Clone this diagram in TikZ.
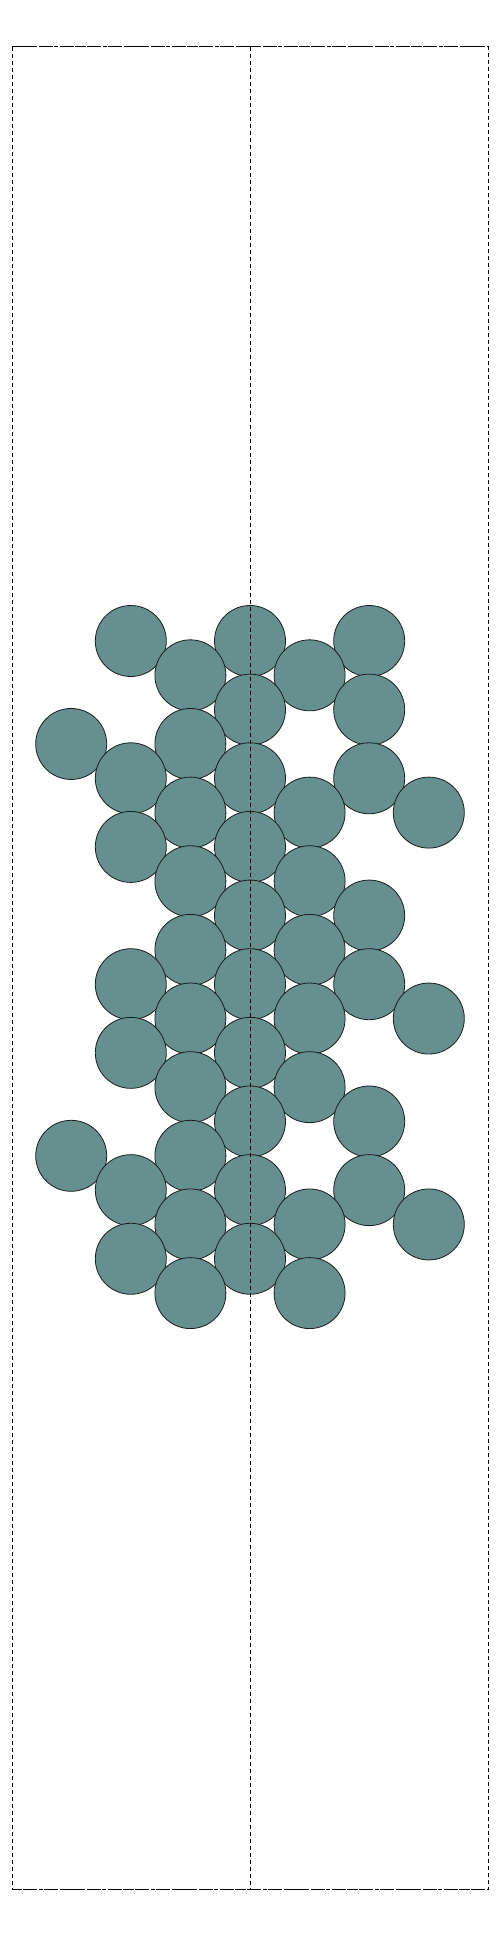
\documentclass[tikz,border=0pt]{standalone}
\definecolor{ballfill}{RGB}{102,143,143}
\definecolor{balledge}{RGB}{25,30,30}
\tikzset{
  ball/.style={circle, draw=balledge, fill=ballfill, line width=0.8pt, minimum size=71pt, inner sep=0pt},
  boxline/.style={line width=0.8pt, dash pattern=on 4pt off 3pt},
}
\begin{document}
\begin{tikzpicture}[x=1pt,y=-1pt]
\useasboundingbox (0,0) rectangle (500,1935);
\foreach \c/\k in {-2/0,0/0,2/0, -1/1,1/1, 0/2,2/2, -3/3,-1/3, -2/4,0/4,2/4, -1/5,1/5,3/5,
  -2/6,0/6, -1/7,1/7, 0/8,2/8, -1/9,1/9, -2/10,0/10,2/10, -1/11,1/11,3/11,
  -2/12,0/12, -1/13,1/13, 0/14,2/14, -3/15,-1/15, -2/16,0/16,2/16, -1/17,1/17,3/17,
  -2/18,0/18, -1/19,1/19}{
  \node[ball] (b\k c\c) at ({250+59.6*\c},{641+34.32*\k}) {};
}
\coordinate (tl) at (12.3,46.7);
\coordinate (tr) at (488.7,46.7);
\coordinate (bl) at (12.3,1889.3);
\coordinate (br) at (488.7,1889.3);
\coordinate (tm) at (250.3,46.7);
\coordinate (bm) at (250.3,1889.3);
\draw[boxline] (tl) -- (tr) -- (br) -- (bl) -- cycle;
\draw[line width=0.8pt, dash pattern=on 9pt off 2pt on 3pt off 2pt] (tl) -- (tr);
\draw[line width=0.8pt, dash pattern=on 9pt off 2pt on 3pt off 2pt] (bl) -- (br);
\draw[boxline] (tm) -- (bm);
\end{tikzpicture}
\end{document}
